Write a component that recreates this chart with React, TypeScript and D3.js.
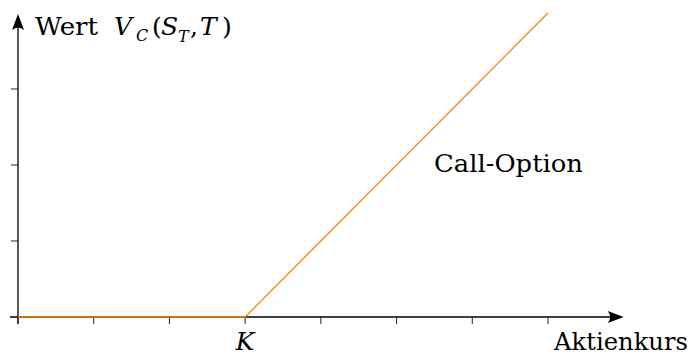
import React from "react";
import * as d3 from "d3";

// Payoff of a call option at maturity: flat at zero up to the strike, then rising 1:1
const stockPrices = [0, 3, 7];
const payoffValues = [0, 0, 4];
const xTicks = [0, 1, 2, 3, 4, 5, 6, 7];
const yTicks = [1, 2, 3];
const strikeLabel = "K";
const xAxisLabel = "Aktienkurs";
const curveLabel = "Call-Option";

const W = 693;
const H = 356;
const FONT = "DejaVu Serif";
const ORANGE = "#ff8000";

export default function App() {
  const x = d3.scaleLinear().domain([0, 7]).range([18, 548]);
  const y = d3.scaleLinear().domain([0, 4]).range([317, 13]);

  const line = d3
    .line<number>()
    .x((_, i) => x(stockPrices[i]))
    .y((d) => y(d));

  const x0 = x(0);
  const y0 = y(0);
  const xEnd = x(8);
  const yEnd = y(4) + 1;

  return (
    <svg
      width={W}
      height={H}
      style={{ position: "absolute", left: 0, top: 0, background: "#fff" }}
    >
      {/* x axis with arrow */}
      <line x1={x0 - 8} y1={y0} x2={xEnd - 4} y2={y0} stroke="#000" strokeWidth={1.3} />
      <path
        d={`M${xEnd},${y0} L${xEnd - 16},${y0 - 6} Q${xEnd - 11},${y0} ${xEnd - 16},${y0 + 6} Z`}
        fill="#000"
      />
      {/* y axis with arrow */}
      <line x1={x0} y1={y0 + 7} x2={x0} y2={yEnd + 4} stroke="#000" strokeWidth={1.3} />
      <path
        d={`M${x0},${yEnd} L${x0 - 6},${yEnd + 16} Q${x0},${yEnd + 11} ${x0 + 6},${yEnd + 16} Z`}
        fill="#000"
      />
      {/* ticks */}
      {xTicks.map((t) => (
        <line key={"xt" + t} x1={x(t)} x2={x(t)} y1={y0} y2={y0 + 7} stroke="#222" strokeWidth={1} />
      ))}
      {yTicks.map((t) => (
        <line key={"yt" + t} x1={x0 - 7} x2={x0} y1={y(t)} y2={y(t)} stroke="#222" strokeWidth={1} />
      ))}
      {/* payoff curve */}
      <path d={line(payoffValues) || ""} fill="none" stroke={ORANGE} strokeWidth={1.3} />

      {/* labels */}
      <text x={x(3)} y={350} textAnchor="middle" fontFamily={FONT} fontSize={25} fontStyle="italic">
        {strikeLabel}
      </text>
      <text x={554} y={350} fontFamily={FONT} fontSize={24} textLength={134} lengthAdjust="spacingAndGlyphs">
        {xAxisLabel}
      </text>
      <text x={434} y={172} fontFamily={FONT} fontSize={25} textLength={149} lengthAdjust="spacingAndGlyphs">
        {curveLabel}
      </text>
      <g fontFamily={FONT} fontSize={25}>
        <text x={35} y={35} textLength={63} lengthAdjust="spacingAndGlyphs">Wert</text>
        <text x={114} y={35} fontStyle="italic">V</text>
        <text x={136} y={41} fontStyle="italic" fontSize={16}>C</text>
        <text x={152} y={35}>(</text>
        <text x={161} y={35} fontStyle="italic">S</text>
        <text x={178} y={42} fontStyle="italic" fontSize={16}>T</text>
        <text x={190} y={35}>,</text>
        <text x={200} y={35} fontStyle="italic">T</text>
        <text x={222} y={35}>)</text>
      </g>
    </svg>
  );
}
